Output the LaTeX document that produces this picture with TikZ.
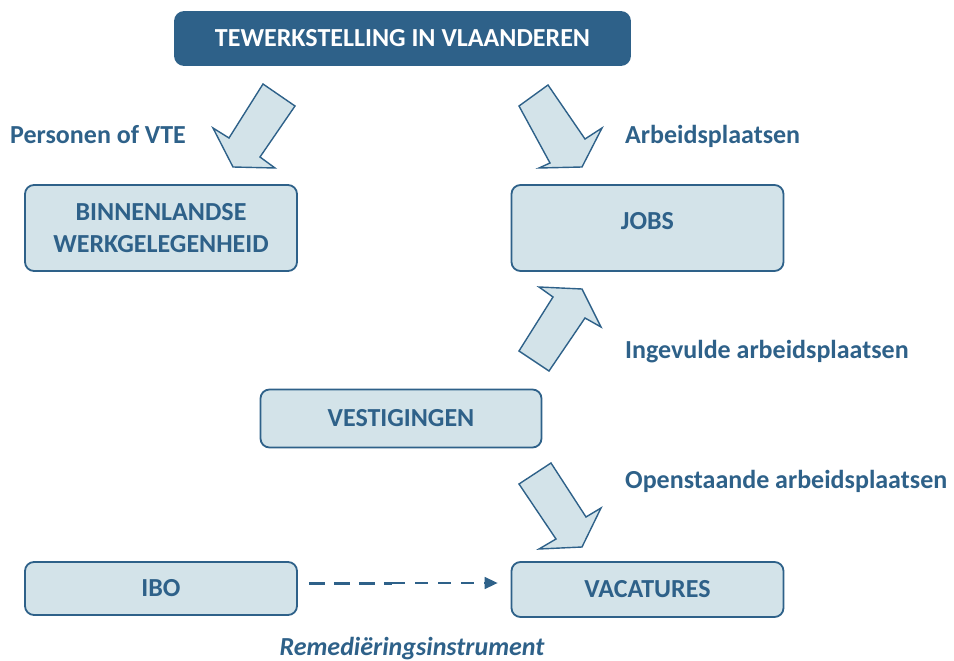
\documentclass[tikz,border=0pt]{standalone}
\usepackage{fontspec}
\setmainfont{Carlito}
\usetikzlibrary{arrows.meta, positioning}

\definecolor{tewblue}{RGB}{46,97,137}
\definecolor{tewlight}{RGB}{211,227,233}

\tikzset{
  box/.style={rectangle, rounded corners=9pt, draw=tewblue, line width=1.8pt, fill=tewlight,
    text=tewblue, font=\fontsize{26}{32}\selectfont\bfseries, align=center},
  caption/.style={text=tewblue, font=\fontsize{26}{32}\selectfont\bfseries, inner sep=0pt},
  blockarrow/.style={draw=tewblue, line width=1.4pt, fill=tewlight, line join=miter},
}

\begin{document}
\begin{tikzpicture}[x=1pt, y=-1pt]
\useasboundingbox (0,0) rectangle (954,661);

% boxes
\node[box, fill=tewblue, draw=tewblue, text=white, minimum width=455pt, minimum height=53pt] (tewerk) at (402.5,38.5) {TEWERKSTELLING IN VLAANDEREN};
\node[box, minimum width=272pt, minimum height=86pt] (binnen) at (161,228) {BINNENLANDSE\\WERKGELEGENHEID};
\node[box, minimum width=272pt, minimum height=86pt, text depth=14pt] (jobs) at (647.5,228) {JOBS};
\node[box, minimum width=281pt, minimum height=58pt] (vestig) at (401,418.5) {VESTIGINGEN};
\node[box, minimum width=272pt, minimum height=53pt] (ibo) at (161,588.5) {IBO};
\node[box, minimum width=272pt, minimum height=55pt] (vacat) at (647.5,589.5) {VACATURES};

% labels
\node[caption, anchor=base west] (personen) at (10,143) {Personen of VTE};
\node[caption, anchor=base west] (arbeid) at (625,143) {Arbeidsplaatsen};
\node[caption, anchor=base west] (ingevuld) at (625,358) {Ingevulde arbeidsplaatsen};
\node[caption, anchor=base west] (openstaand) at (625,488) {Openstaande arbeidsplaatsen};
\node[caption, anchor=base, font=\fontsize{26}{32}\selectfont\bfseries\itshape] (remed) at (412,655) {Remediëringsinstrument};

% block arrows
\draw[blockarrow] (263,84) -- (295,106) -- (260,157) -- (275,168) -- (233,167) -- (213,128) -- (229,138) -- cycle;
\draw[blockarrow] (548,85) -- (585,139) -- (602,128) -- (582,167) -- (539,168) -- (550,163) -- (519,106) -- cycle;
\draw[blockarrow] (519,351) -- (553,297) -- (539,287) -- (582,289) -- (601,327) -- (585,318) -- (549,371) -- cycle;
\draw[blockarrow] (551,463) -- (586,517) -- (601,508) -- (582,547) -- (539,549) -- (556,539) -- (519,484) -- cycle;

% dashed connector
\coordinate (dashmid) at (392,583);
\draw[tewblue, line width=3pt, dash pattern=on 16pt off 9pt] ([xshift=11pt,yshift=5.5pt]ibo.east) -- (dashmid);
\draw[tewblue, line width=1.5pt, dash pattern=on 13pt off 10pt, -{Triangle[length=13pt, width=12pt]}] (dashmid) -- ([xshift=-13pt,yshift=6.5pt]vacat.west);

\end{tikzpicture}
\end{document}
